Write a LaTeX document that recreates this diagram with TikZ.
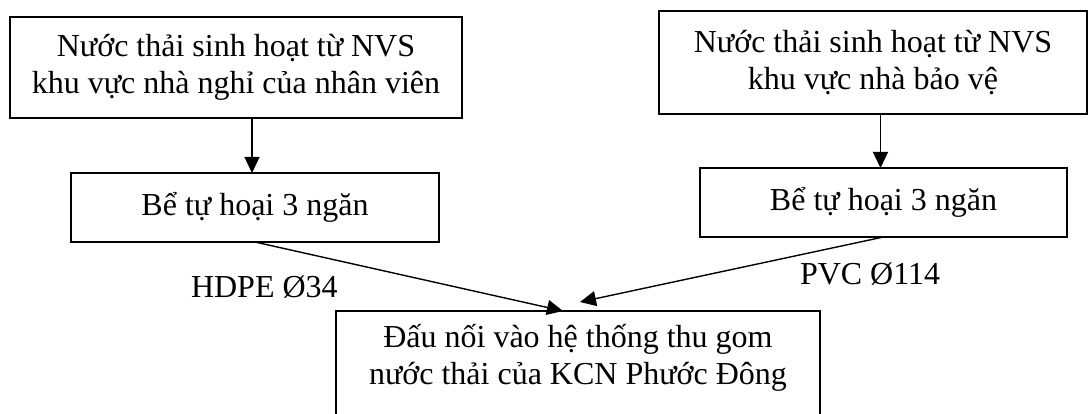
\documentclass[tikz,border=0pt]{standalone}
\usepackage{fontspec}
\setmainfont{Liberation Serif}
\usetikzlibrary{arrows.meta}
\begin{document}
\begin{tikzpicture}[x=1pt, y=-1pt,
  every node/.style={font=\fontsize{32pt}{37pt}\selectfont, inner sep=0pt, outer sep=0pt},
  srcbox/.style={draw, line width=2.8pt, align=center},
  tankbox/.style={draw, line width=2.2pt, align=center},
  joinbox/.style={draw, line width=2.4pt},
  flow/.style={line width=1.4pt, -{Triangle[length=16pt, width=15pt]}},
  pipe/.style={anchor=base west}
]
\useasboundingbox (0,0) rectangle (1088,414);

% sources
\node[srcbox, minimum width=452pt, minimum height=101pt] (src1) at (236,67.5)
  {Nước thải sinh hoạt từ NVS\\khu vực nhà nghỉ của nhân viên};
\node[srcbox, minimum width=428pt, minimum height=103pt] (src2) at (873,62.5)
  {Nước thải sinh hoạt từ NVS\\khu vực nhà bảo vệ};

% septic tanks
\node[tankbox, minimum width=368pt, minimum height=69pt] (tank1) at (255,207.5)
  {Bể tự hoại 3 ngăn};
\node[tankbox, minimum width=367pt, minimum height=69pt] (tank2) at (883.5,202.5)
  {Bể tự hoại 3 ngăn};

% connection to the industrial park sewer
\node[joinbox, anchor=north, minimum width=484pt, minimum height=150pt] (join) at (578,311) {};
\node[align=center, anchor=north] (jointext) at ([yshift=-13pt]join.north)
  {Đấu nối vào hệ thống thu gom\\nước thải của KCN Phước Đông};

% flows
\draw[flow] ([xshift=-3pt]src1.south -| tank1.north) -- ([xshift=-3pt]tank1.north);
\draw[flow] ([xshift=-3pt]src2.south -| tank2.north) -- ([xshift=-3pt]tank2.north);
\draw[flow] (tank1.south) -- ([xshift=-15pt]join.north);
\coordinate (pvcend) at ([xshift=2pt, yshift=9pt]join.north);
\draw[flow] (tank2.south) -- (pvcend);

% pipe labels
\node[pipe] (hdpe) at (191,298) {HDPE Ø34};
\node[pipe] (pvc) at (800,285) {PVC Ø114};
\end{tikzpicture}
\end{document}
